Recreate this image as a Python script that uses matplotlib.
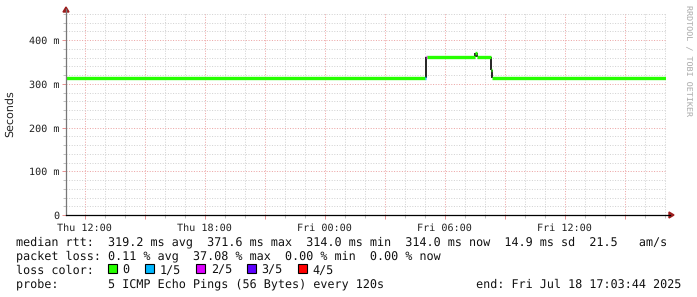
import matplotlib
matplotlib.use("Agg")
import matplotlib.pyplot as plt
import matplotlib.dates as mdates
import matplotlib.ticker as mticker
from matplotlib.lines import Line2D
from matplotlib.patches import Polygon, Rectangle
import pandas as pd

plt.rcParams["text.hinting"] = "no_hinting"

# ---------------- data ----------------
x_start = "2025-07-17 11:03:44"
x_end = "2025-07-18 17:03:44"
seg_start = ["2025-07-17 11:03:44", "2025-07-18 05:00", "2025-07-18 05:03",
             "2025-07-18 05:06", "2025-07-18 07:30", "2025-07-18 07:36",
             "2025-07-18 08:18", "2025-07-18 08:21"]
median_ms = [314, 314, 362, 362, 371.6, 362, 331, 314]
loss_count = [0, 1, 2, 0, 0, 0, 0, 0]
y_tick_values = [0, 100, 200, 300, 400]
y_tick_labels = ["0", "100 m", "200 m", "300 m", "400 m"]
loss_labels = ["0", "1/5", "2/5", "3/5", "4/5"]
loss_colors = ["#26ff00", "#00b8ff", "#dd00ff", "#5e00ff", "#ff0000"]
line1 = "median rtt:  319.2 ms avg  371.6 ms max  314.0 ms min  314.0 ms now  14.9 ms sd  21.5   am/s"
line2 = "packet loss: 0.11 % avg  37.08 % max  0.00 % min  0.00 % now"
line3 = "loss color:"
line4 = "probe:       5 ICMP Echo Pings (56 Bytes) every 120s             end: Fri Jul 18 17:03:44 2025"

# ---------------- figure ----------------
W, H = 697, 297
fig = plt.figure(figsize=(W / 100, H / 100), dpi=100)
fig.patch.set_facecolor("white")

def fx(x):
    return x / W

def fy(y):
    return 1 - y / H

ax_l, ax_r, ax_t, ax_b = 66, 666, 13, 215
ax = fig.add_axes([fx(ax_l), fy(ax_b), (ax_r - ax_l) / W, (ax_b - ax_t) / H])
ax.set_facecolor("white")

t0 = mdates.date2num(pd.Timestamp(x_start))
t1 = mdates.date2num(pd.Timestamp(x_end))
starts = [mdates.date2num(pd.Timestamp(s)) for s in seg_start]
ends = starts[1:] + [t1]

# vertical connectors (black)
for i in range(1, len(starts)):
    if median_ms[i] != median_ms[i - 1]:
        ax.vlines(starts[i], min(median_ms[i], median_ms[i - 1]),
                  max(median_ms[i], median_ms[i - 1]), colors="black", lw=1.2, zorder=4)
# median segments coloured by loss
ax.hlines(median_ms, starts, ends, colors=[loss_colors[l] for l in loss_count],
          lw=2.4, zorder=5)

ax.set_xlim(t0, t1)
ax.set_ylim(0, 462)

# grid
ax.yaxis.set_major_locator(mticker.FixedLocator(y_tick_values))
ax.yaxis.set_major_formatter(mticker.FixedFormatter(y_tick_labels))
ax.yaxis.set_minor_locator(mticker.MultipleLocator(20))
ax.xaxis.set_major_locator(mdates.HourLocator(byhour=range(0, 24, 3)))
ax.xaxis.set_minor_locator(mdates.HourLocator())

def xfmt(v, pos):
    d = mdates.num2date(v)
    if d.hour % 6 == 0:
        return d.strftime("%a %H:%M")
    return ""

ax.xaxis.set_major_formatter(mticker.FuncFormatter(xfmt))

ax.grid(True, which="minor", color="#d2d2d2", lw=0.72, linestyle=(0, (1, 1.6)), zorder=0)
ax.grid(True, which="major", color="#eca4a4", lw=0.72, linestyle=(0, (1, 1.6)), zorder=1)

for sp in ax.spines.values():
    sp.set_visible(False)

ax.tick_params(axis="both", which="major", direction="out", length=3, width=0.7,
               color="#e89090", labelsize=7.3, labelcolor="#222222", pad=2)
ax.tick_params(axis="both", which="minor", direction="out", length=2, width=0.7,
               color="#c0c0c0")
for lab in ax.get_xticklabels() + ax.get_yticklabels():
    lab.set_family("DejaVu Sans Mono")
ax.tick_params(axis="x", which="major", pad=3)

# axis lines + arrows
fig.add_artist(Line2D([fx(ax_l), fx(ax_l)], [fy(ax_b), fy(9)], color="#777777", lw=0.9))
fig.add_artist(Line2D([fx(ax_l), fx(670)], [fy(ax_b), fy(ax_b)], color="black", lw=0.9))
arrow_c = "#9c1c1c"
fig.add_artist(Polygon([[fx(ax_l - 3), fy(12)], [fx(ax_l + 3), fy(12)], [fx(ax_l), fy(7)]],
                       closed=True, color=arrow_c))
fig.add_artist(Polygon([[fx(669), fy(ax_b - 3)], [fx(669), fy(ax_b + 3)], [fx(674), fy(ax_b)]],
                       closed=True, color=arrow_c))

# y label
fig.text(fx(10), fy(114), "Seconds", rotation=90, ha="center", va="center",
         fontsize=8, family="DejaVu Sans", color="#222222")

# watermark
fig.text(fx(688), fy(5), "RRDTOOL / TOBI OETIKER", rotation=270, ha="center", va="top",
         fontsize=6.0, family="DejaVu Sans Mono", color="#a8a8a8")

# legend text
mono = dict(family="DejaVu Sans Mono", fontsize=8.44, color="#111111", va="baseline", ha="left")
fig.text(fx(16), fy(245), line1, **mono)
fig.text(fx(16), fy(259.5), line2, **mono)
fig.text(fx(16), fy(273.5), line3, **mono)
fig.text(fx(16), fy(287.5), line4, **mono)

sq_x = [108, 145, 196, 247, 298]
lab_x = [122.5, 160, 211, 261.5, 312.5]
for c, lab, sx, lx in zip(loss_colors, loss_labels, sq_x, lab_x):
    fig.add_artist(Rectangle((fx(sx), fy(272.5)), 8.5 / W, 8.5 / H, facecolor=c,
                             edgecolor="black", lw=0.8))
    fig.text(fx(lx), fy(273.5), lab, **mono)

fig.savefig("out.png", dpi=100, facecolor="white")
